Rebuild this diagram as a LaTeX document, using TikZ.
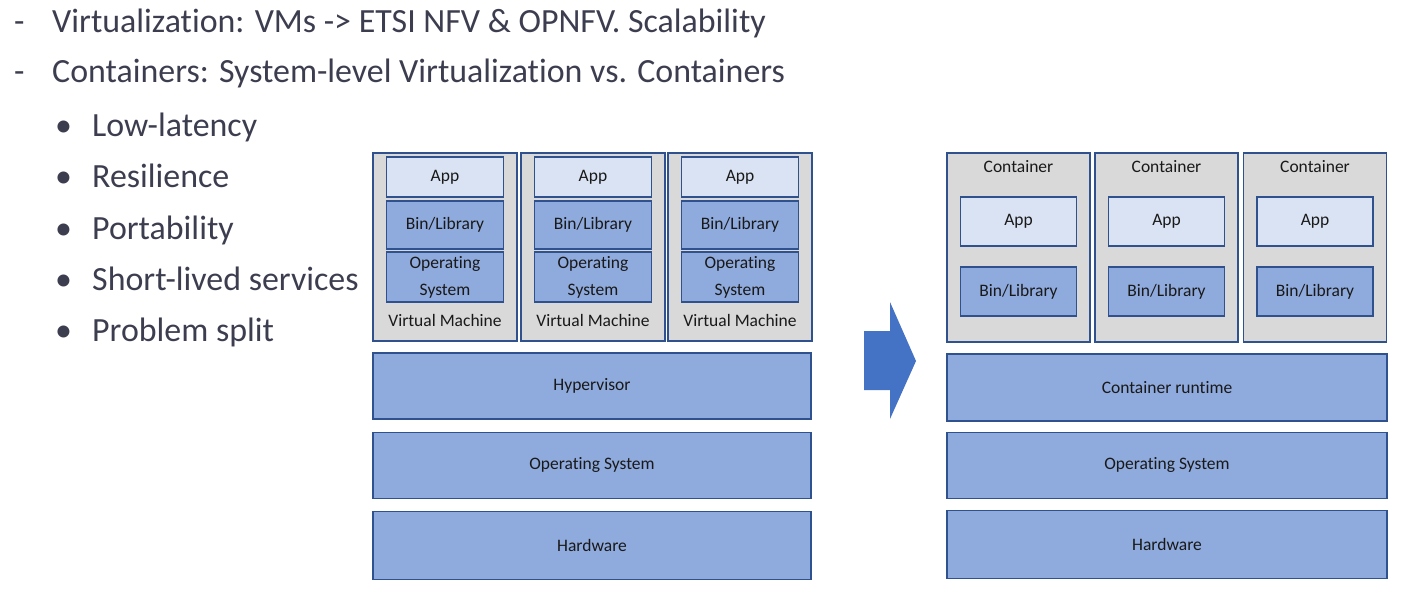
\documentclass[tikz,border=0pt]{standalone}
\usepackage{fontspec}
\setmainfont{Carlito}[Ligatures=NoCommon]
\usetikzlibrary{positioning}
\definecolor{textslate}{RGB}{60,62,80}
\definecolor{boxline}{RGB}{47,82,143}
\definecolor{shellgray}{RGB}{217,217,217}
\definecolor{applight}{RGB}{218,227,243}
\definecolor{layerblue}{RGB}{143,170,220}
\definecolor{arrowblue}{RGB}{68,114,196}
\tikzset{
    slide text/.style = {
        anchor=base west,
        inner sep=0pt,
        text=textslate,
        font=\fontsize{33.9}{40}\selectfont,
        },
    small label/.style = {
        font=\fontsize{17.5}{27}\selectfont,
        text=black!90,
        inner sep=0pt,
        align=center,
        },
    shell/.style = {
        draw=boxline,
        fill=shellgray,
        line width=1.1pt,
        inner sep=0pt,
        },
    app box/.style = {
        small label,
        draw=boxline,
        fill=applight,
        line width=1.1pt,
        },
    lib box/.style = {
        small label,
        draw=boxline,
        fill=layerblue,
        line width=1.1pt,
        },
    layer/.style = {
        lib box,
        minimum height=66,
        },
}
\begin{document}
\begin{tikzpicture}[x=1pt,y=-1pt]
    \useasboundingbox (0,0) rectangle (1401,591);

    % bullet text
    \node[slide text] (dash1) at (14,33) {-};
    \node[slide text] (line1) at (52,33) {Virtualization: VMs -> ETSI NFV \& OPNFV. Scalability};
    \node[slide text] (dash2) at (14,83) {-};
    \node[slide text] (line2) at (52,83) {Containers: System-level Virtualization vs. Containers};
    \foreach \txt [count=\i] in {Low-latency, Resilience, Portability, Short-lived services, Problem split} {
        \node[slide text] (dot\i) at (55,{137+51*(\i-1)}) {•};
        \node[slide text] (item\i) at (92,{137+51*(\i-1)}) {\txt};
    }

    % virtual machines
    \foreach \cx [count=\i] in {445,593,740} {
        \node[shell, minimum width=144, minimum height=188] (vm\i) at (\cx,247) {};
        \node[app box, minimum width=117, minimum height=40] (vmapp\i) at (\cx,177) {App};
        \node[lib box, minimum width=117, minimum height=48] (vmlib\i) at (\cx,225) {Bin/Library};
        \node[lib box, minimum width=117, minimum height=50] (vmos\i) at (\cx,277) {Operating\\System};
        \node[small label] (vmname\i) at (\cx,320) {Virtual Machine};
    }
    \node[layer, minimum width=438] (hyp) at (592,386) {Hypervisor};
    \node[layer, minimum width=438, below=12pt of hyp] (hostos) {Operating System};
    \node[layer, minimum width=438, minimum height=68, below=12pt of hostos] (hw) {Hardware};

    % arrow
    \fill[arrowblue] (864,331) -- (890,331) -- (890,302) -- (916,361) -- (890,419) -- (890,390) -- (864,390) -- cycle;

    % containers
    \foreach \cx [count=\i] in {1018.5,1166.5,1315} {
        \node[shell, minimum width=143, minimum height=189] (ct\i) at (\cx,247.5) {};
        \node[small label] (ctname\i) at (\cx,167) {Container};
        \node[app box, minimum width=116, minimum height=49] (ctapp\i) at (\cx,221.5) {App};
        \node[lib box, minimum width=116, minimum height=49] (ctlib\i) at (\cx,291.5) {Bin/Library};
    }
    \node[layer, minimum width=440, minimum height=67] (rt) at (1167,387.5) {Container runtime};
    \node[layer, minimum width=440, below=10pt of rt] (ctos) {Operating System};
    \node[layer, minimum width=440, minimum height=68, below=11pt of ctos] (cthw) {Hardware};
\end{tikzpicture}
\end{document}
